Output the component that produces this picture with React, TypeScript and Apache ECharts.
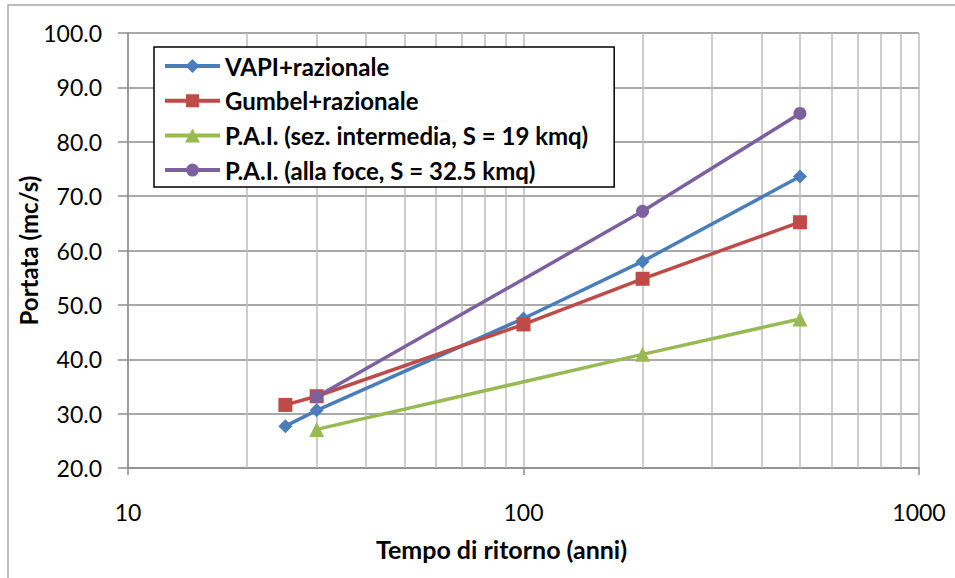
import React, { useEffect, useRef } from "react";
import * as echarts from "echarts";

const seriesNames = [
  "VAPI+razionale",
  "Gumbel+razionale",
  "P.A.I. (sez. intermedia, S = 19 kmq)",
  "P.A.I. (alla foce, S = 32.5 kmq)",
];
const vapiX = [25, 30, 100, 200, 500];
const vapiY = [27.7, 30.6, 47.5, 58.0, 73.6];
const gumbelX = [25, 30, 100, 200, 500];
const gumbelY = [31.6, 33.2, 46.4, 54.8, 65.2];
const paiIntX = [30, 200, 500];
const paiIntY = [27.1, 40.9, 47.4];
const paiFoceX = [30, 200, 500];
const paiFoceY = [33.1, 67.2, 85.2];
const minorGridX = [20, 30, 40, 50, 60, 70, 80, 90, 200, 300, 400, 500, 600, 700, 800, 900];
const colors = ["#4a7ebb", "#be4b48", "#98b954", "#7d60a0"];
const symbols = ["diamond", "rect", "triangle", "circle"];
const symbolSizes = [14, 14, 15, 13];

// legend icons: thick line segment plus marker, drawn in a 55x14 box
const LINE = "M0 5 H55 V9 H0 Z ";
const legendIcons = [
  "path://" + LINE + "M27.5 0 L34.5 7 L27.5 14 L20.5 7 Z",
  "path://" + LINE + "M21 0.5 H34 V13.5 H21 Z",
  "path://" + LINE + "M27.5 0 L35 14 H20 Z",
  "path://" + LINE + "M21 7 A6.5 6.5 0 1 1 34 7 A6.5 6.5 0 1 1 21 7 Z",
];

const FONT = "Lato";

export default function App() {
  const ref = useRef<HTMLDivElement>(null);
  useEffect(() => {
    document.body.style.margin = "0";
    if (!ref.current) return;
    const chart = echarts.init(ref.current, null, { renderer: "svg" });
    const xs = [vapiX, gumbelX, paiIntX, paiFoceX];
    const ys = [vapiY, gumbelY, paiIntY, paiFoceY];
    const dataSeries = seriesNames.map((name, i) => ({
      name,
      type: "line",
      data: xs[i].map((x, j) => [x, ys[i][j]]),
      symbol: symbols[i],
      symbolSize: symbolSizes[i],
      showAllSymbol: true,
      legendIcon: legendIcons[i],
      z: 5,
      itemStyle: { color: colors[i] },
      lineStyle: { color: colors[i], width: 3.5 },
    }));
    chart.setOption({
      animation: false,
      backgroundColor: "#ffffff",
      textStyle: { fontFamily: FONT },
      graphic: [
        {
          type: "rect",
          shape: { x: 8, y: 5, width: 1000, height: 1000 },
          style: { fill: "none", stroke: "#a6a6a6", lineWidth: 1.5 },
          z: -10,
          silent: true,
        },
      ],
      grid: { left: 128, right: 36, top: 33, bottom: 110 },
      legend: {
        data: seriesNames.map((name, i) => ({
          name,
          icon: legendIcons[i],
          itemStyle: { color: colors[i], borderWidth: 0 },
        })),
        orient: "vertical",
        left: 154,
        top: 47,
        padding: [7, 26, 5, 11],
        itemGap: 10.7,
        itemWidth: 55,
        itemHeight: 14,
        backgroundColor: "#ffffff",
        borderColor: "#000000",
        borderWidth: 1.5,
        z: 10,
        textStyle: {
          fontFamily: FONT,
          fontWeight: "bold",
          fontSize: 24,
          lineHeight: 24,
          color: "#000000",
        },
      },
      xAxis: {
        type: "log",
        logBase: 10,
        min: 10,
        max: 1000,
        name: "Tempo di ritorno (anni)",
        nameLocation: "middle",
        nameGap: 68,
        nameMoveOverlap: false,
        nameTextStyle: {
          fontFamily: FONT,
          fontWeight: "bold",
          fontSize: 25,
          color: "#000000",
          padding: [0, 44, 0, 0],
        },
        axisLine: { show: true, lineStyle: { color: "#8c8c8c", width: 1.5 } },
        axisTick: { show: true, length: 7, lineStyle: { color: "#8c8c8c", width: 1.5 } },
        axisLabel: {
          fontFamily: FONT,
          fontSize: 23,
          color: "#000000",
          margin: 32,
          formatter: (v: number) => String(Math.round(v)),
        },
        splitLine: { show: true, lineStyle: { color: "#bcbcbc", width: 1.5 } },
      },
      yAxis: {
        type: "value",
        min: 20,
        max: 100,
        interval: 10,
        name: "Portata (mc/s)",
        nameLocation: "middle",
        nameGap: 88,
        nameMoveOverlap: false,
        nameTextStyle: {
          fontFamily: FONT,
          fontWeight: "bold",
          fontSize: 24,
          color: "#000000",
        },
        axisLine: { show: true, lineStyle: { color: "#8c8c8c", width: 1.5 } },
        axisTick: { show: true, inside: false, length: 10, lineStyle: { color: "#8c8c8c", width: 1.5 } },
        axisLabel: {
          fontFamily: FONT,
          fontSize: 23,
          color: "#000000",
          margin: 26,
          formatter: (v: number) => v.toFixed(1),
        },
        splitLine: { show: true, lineStyle: { color: "#8c8c8c", width: 1.5 } },
      },
      series: [
        {
          name: "minor-grid",
          type: "line",
          data: [],
          z: 1,
          silent: true,
          markLine: {
            silent: true,
            symbol: "none",
            label: { show: false },
            lineStyle: { color: "#bcbcbc", width: 1.5, type: "solid" },
            emphasis: { disabled: true },
            data: minorGridX.map((x) => ({ xAxis: x })),
          },
        },
        ...dataSeries,
      ],
    });
    return () => chart.dispose();
  }, []);
  return <div ref={ref} style={{ width: 955, height: 578 }} />;
}
